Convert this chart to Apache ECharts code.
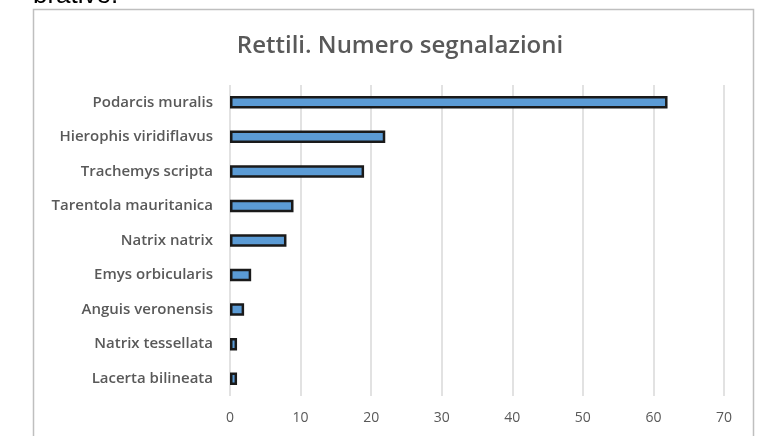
<!DOCTYPE html>
<html>
<head>
<meta charset="utf-8">
<style>
  html, body { margin: 0; padding: 0; background: #ffffff; }
  #chart { width: 757px; height: 436px; }
</style>
<script src="https://cdn.jsdelivr.net/npm/echarts@6/dist/echarts.min.js"></script>
</head>
<body>
<div id="chart"></div>
<script>
const categories = [
  'Podarcis muralis',
  'Hierophis viridiflavus',
  'Trachemys scripta',
  'Tarentola mauritanica',
  'Natrix natrix',
  'Emys orbicularis',
  'Anguis veronensis',
  'Natrix tessellata',
  'Lacerta bilineata'
];
const values = [62, 22, 19, 9, 8, 3, 2, 1, 1];
const titleText = 'Rettili. Numero segnalazioni';
const topText = 'brative.';

const chart = echarts.init(document.getElementById('chart'), null, { renderer: 'canvas' });
chart.setOption({
  animation: false,
  backgroundColor: '#ffffff',
  title: {
    text: titleText,
    left: 395,
    textAlign: 'center',
    top: 29,
    textStyle: { fontFamily: 'Open Sans', fontWeight: 600, fontSize: 24, color: '#595959' }
  },
  graphic: [
    {
      type: 'rect',
      shape: { x: 33.5, y: 9.5, width: 720, height: 460 },
      style: { fill: 'none', stroke: '#bfbfbf', lineWidth: 1.5 },
      z: -1
    },
    {
      type: 'text',
      left: 33,
      top: -17,
      style: { text: topText, fontFamily: 'Liberation Sans', fontSize: 26, fill: '#000000' }
    }
  ],
  grid: { left: 230, right: 33, top: 85, bottom: 40, containLabel: false },
  xAxis: {
    type: 'value',
    min: 0,
    max: 70,
    interval: 10,
    axisLine: { show: false },
    axisTick: { show: false },
    splitLine: { show: true, lineStyle: { color: '#d9d9d9', width: 1.5 } },
    axisLabel: { margin: 15, fontFamily: 'Open Sans', fontSize: 14, color: '#595959' }
  },
  yAxis: {
    type: 'category',
    data: categories,
    inverse: true,
    axisLine: { show: false },
    axisTick: { show: false },
    axisLabel: { margin: 17, fontFamily: 'Open Sans', fontWeight: 600, fontSize: 15, color: '#595959' }
  },
  series: [{
    type: 'bar',
    data: values,
    barWidth: 12.5,
    itemStyle: { color: '#5b9bd5', borderColor: '#1a1a1a', borderWidth: 2.5 }
  }]
});
</script>
</body>
</html>
